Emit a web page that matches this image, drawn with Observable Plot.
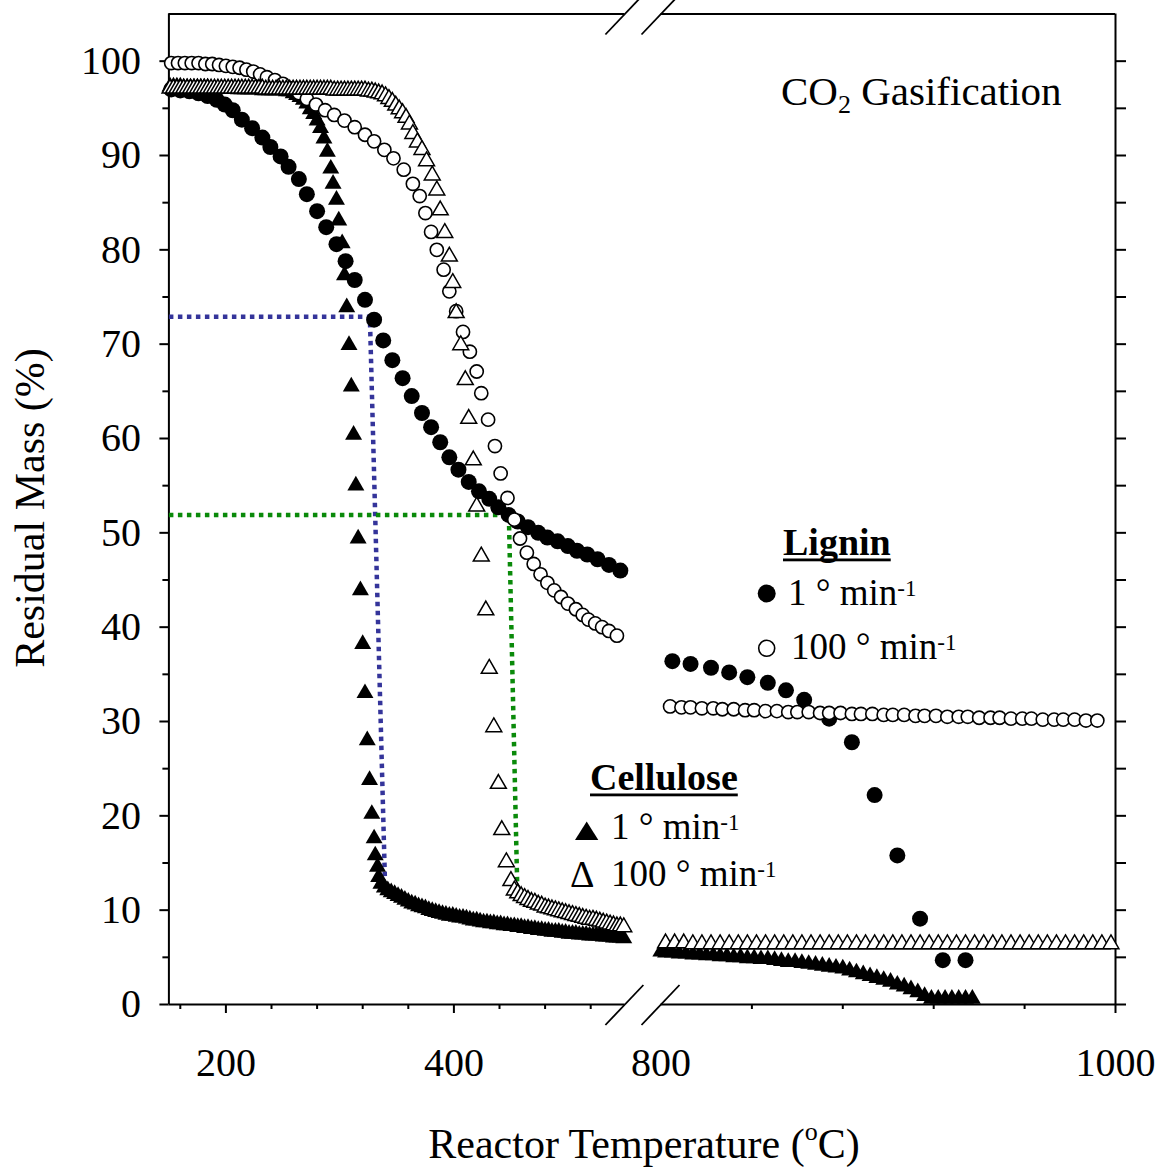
<!DOCTYPE html>
<html>
<head>
<meta charset="utf-8">
<script src="https://cdn.jsdelivr.net/npm/d3@7"></script>
<script src="https://cdn.jsdelivr.net/npm/@observablehq/plot@0.6"></script>
<style>
  html, body { margin: 0; padding: 0; background: #fff; }
  #chart { position: relative; width: 1157px; height: 1169px; }
</style>
</head>
<body>
<div id="chart"></div>
<script>
// ---- Residual mass (%) vs reactor temperature (°C), CO2 gasification ----

// Lignin, 1 °C/min (filled circles)
const ligninSlowTemp = [152,160,168,176,184,192,199,206,214,223,232,239,248,255,264,271,280,288,297,305,
  313,322,330,338,346,355,363,372,380,388,396,404,413,422,431,439,448,456,465,474,
  482,491,500,508,517,526,536,546,
  805,813,822,830,838,847,855,863,874,884,894,904,914,924,934];
const ligninSlowMass = [97.0,96.9,96.8,96.6,96.3,95.9,95.4,94.8,93.8,92.9,91.9,90.9,89.9,88.8,87.5,85.9,84.1,82.4,80.6,78.8,
  76.8,74.7,72.6,70.4,68.3,66.4,64.5,62.7,61.2,59.6,58.0,56.7,55.4,54.4,53.6,52.7,51.9,51.2,50.6,50.0,
  49.5,49.1,48.6,48.1,47.7,47.2,46.6,46.0,
  36.4,36.1,35.7,35.2,34.7,34.1,33.3,32.3,30.3,27.8,22.2,15.8,9.1,4.7,4.7];

// Lignin, 100 °C/min (open circles)
const ligninFastTemp = [152,158,164,170,176,182,188,194,200,206,212,218,224,230,236,243,250,257,264,271,
  279,287,295,304,313,322,330,339,347,356,364,370,375,380,385,391,396,402,408,414,
  420,424,430,436,441,447,453,458,464,470,476,482,488,494,500,507,513,518,524,530,536,543,
  804,809,813,818,823,827,832,837,841,846,851,856,860,865,870,874,879,884,888,893,
  898,902,907,912,916,921,926,931,935,940,945,949,954,959,963,968,973,977,982,987,992];
const ligninFastMass = [99.8,99.8,99.8,99.8,99.8,99.7,99.7,99.6,99.5,99.4,99.3,99.1,98.9,98.6,98.3,98.0,97.6,97.1,96.6,96.0,
  95.4,94.8,94.3,93.7,93.0,92.2,91.5,90.6,89.7,88.5,87.0,85.7,83.9,81.9,80.0,77.9,75.6,73.5,71.3,69.2,
  67.1,64.8,62.0,59.2,56.3,53.7,51.4,49.4,47.9,46.7,45.6,44.7,43.9,43.2,42.5,41.9,41.3,40.8,40.4,40.0,39.6,39.1,
  31.6,31.5,31.5,31.4,31.4,31.3,31.3,31.2,31.2,31.1,31.1,31.0,31.0,31.0,30.9,30.9,30.9,30.8,30.8,30.8,
  30.7,30.7,30.7,30.6,30.6,30.6,30.5,30.5,30.5,30.4,30.4,30.4,30.3,30.3,30.3,30.2,30.2,30.2,30.2,30.1,30.1];

// Cellulose, 1 °C/min (filled triangles)
const celluloseSlowTemp = [151,154,157,160,163,166,169,172,175,178,181,184,187,190,193,196,199,202,205,208,
  211,214,217,220,223,226,229,232,235,238,241,244,247,250,253,256,259,262,265,268,
  271,274,277,280,283,286,289,
  292,294,297,299,302,304,306,308,310,312,314,316,318,320,322,324,326,328,330,331,333,334,336,
  339,342,345,348,351,354,357,360,363,366,369,372,375,378,381,384,387,390,393,396,
  399,402,405,408,411,414,417,420,423,426,429,432,435,438,441,444,447,450,453,456,
  459,462,465,468,471,474,477,480,483,486,489,492,495,498,501,504,507,510,513,516,
  519,522,525,528,531,534,537,540,543,546,549,
  799,802,805,808,811,814,817,820,823,826,829,832,835,838,841,844,847,850,853,856,
  859,862,865,868,871,874,877,880,883,886,889,892,895,898,901,904,907,910,913,916,
  919,922,925,928,931,934,937];
const celluloseSlowMass = [97.3,97.3,97.3,97.3,97.2,97.2,97.2,97.2,97.2,97.2,97.2,97.2,97.1,97.1,97.1,97.1,97.1,97.1,97.1,97.1,
  97.0,97.0,97.0,97.0,97.0,97.0,97.0,96.9,96.9,96.9,96.9,96.9,96.9,96.9,96.8,96.8,96.6,96.4,96.2,95.9,
  95.5,94.9,94.4,93.7,92.9,91.8,90.4,
  88.6,87.0,85.3,83.1,80.7,77.3,73.9,69.9,65.5,60.4,55.0,49.4,43.9,38.2,33.0,28.0,23.8,20.2,17.6,15.8,14.6,13.5,12.8,
  12.4,12.1,11.9,11.7,11.5,11.3,11.1,10.9,10.7,10.6,10.4,10.3,10.2,10.0,9.9,9.8,9.7,9.6,9.5,9.4,
  9.4,9.3,9.2,9.2,9.1,9.0,8.9,8.9,8.8,8.7,8.7,8.6,8.6,8.5,8.5,8.4,8.4,8.3,8.3,8.2,
  8.2,8.1,8.1,8.0,8.0,7.9,7.9,7.8,7.8,7.7,7.7,7.7,7.6,7.6,7.5,7.5,7.5,7.4,7.4,7.4,
  7.3,7.3,7.3,7.3,7.2,7.2,7.2,7.1,7.1,7.1,7.0,
  5.6,5.5,5.5,5.4,5.4,5.3,5.3,5.2,5.2,5.1,5.1,5.0,5.0,4.9,4.9,4.8,4.8,4.7,4.6,4.5,
  4.5,4.4,4.3,4.2,4.1,4.0,3.9,3.8,3.6,3.4,3.2,3.0,2.8,2.6,2.4,2.1,1.9,1.6,1.3,0.9,
  0.6,0.6,0.6,0.6,0.6,0.6,0.6];

// Cellulose, 100 °C/min (open triangles)
const celluloseFastTemp = [151,154,157,160,163,166,169,172,175,178,181,184,187,190,193,196,199,202,205,208,
  211,214,217,220,223,226,229,232,235,238,241,244,247,250,253,256,259,262,265,268,
  271,274,277,280,283,286,289,292,295,298,301,304,307,310,313,316,319,322,325,328,
  331,334,337,340,343,346,349,352,355,358,361,364,368,372,376,381,385,388,392,396,
  399,402,406,410,413,417,420,424,428,431,435,439,442,446,450,
  453,456,459,462,465,468,471,474,477,480,483,486,489,492,495,498,501,504,507,510,
  513,516,519,522,525,528,531,534,537,540,543,546,549,
  802,806,810,814,818,822,826,830,834,838,842,846,850,854,858,862,866,870,874,878,
  882,886,890,894,898,902,906,910,914,918,922,926,930,934,938,942,946,950,954,958,
  962,966,970,974,978,982,986,990,994,998];
const celluloseFastMass = [97.1,97.1,97.1,97.1,97.1,97.1,97.1,97.1,97.1,97.1,97.1,97.1,97.1,97.1,97.1,97.1,97.1,97.1,97.1,97.1,
  97.1,97.1,97.1,97.1,97.1,97.1,97.1,97.1,97.0,97.0,97.0,97.0,97.0,97.0,97.0,97.0,97.0,97.0,97.0,97.0,
  97.0,97.0,97.0,97.0,97.0,97.0,97.0,97.0,96.9,96.9,96.9,96.9,96.9,96.9,96.9,96.9,96.9,96.9,96.8,96.8,
  96.7,96.6,96.5,96.3,96.0,95.7,95.3,94.9,94.5,94.0,93.3,92.3,91.4,90.6,89.4,87.9,86.3,84.2,81.8,79.3,
  76.5,73.3,69.9,66.2,62.1,57.7,52.8,47.5,41.8,35.6,29.4,23.4,18.5,15.1,13.1,
  12.1,11.8,11.5,11.3,11.1,10.9,10.8,10.6,10.5,10.3,10.2,10.1,10.0,9.9,9.8,9.7,9.6,9.5,9.4,9.3,
  9.2,9.1,9.0,9.0,8.9,8.8,8.7,8.6,8.5,8.4,8.3,8.3,8.2,
  6.5,6.5,6.5,6.4,6.4,6.4,6.4,6.4,6.4,6.4,6.4,6.4,6.4,6.4,6.4,6.4,6.4,6.4,6.4,6.4,
  6.4,6.4,6.4,6.4,6.4,6.4,6.4,6.4,6.4,6.4,6.4,6.4,6.4,6.4,6.4,6.4,6.4,6.4,6.4,6.4,
  6.4,6.4,6.4,6.4,6.4,6.4,6.4,6.4,6.4,6.4];

// Dotted guides: mass level and the cellulose temperature at which it is reached
const guideSlowTemp = [150, 326.3, 339.5];
const guideSlowMass = [72.9, 72.9, 13.2];
const guideFastTemp = [150, 448.2, 455.5];
const guideFastMass = [51.9, 51.9, 12.8];

// Broken temperature axis: two segments and their ticks
const xBreaks = [150, 550, 800, 1000];
const xSegments = [[150, 550], [800, 1000]];
const xTickLabels = [200, 400, 800, 1000];
const xMajorTicks = [200, 400, 1000];
const xMinorTicks = [160, 240, 280, 320, 360, 440, 480, 520, 840, 880, 920, 960];
const yTicks = [0, 10, 20, 30, 40, 50, 60, 70, 80, 90, 100];
const yMinorTicks = [5, 15, 25, 35, 45, 55, 65, 75, 85, 95];
const yRightTicks = [0, 5, 10, 15, 20, 25, 30, 35, 40, 45, 50, 55, 60, 65, 70, 75, 80, 85, 90, 95, 100];
const yTop = 105;

const rows = (temps, masses) => temps.map((t, i) => ({temp: t, mass: masses[i]}));
const ligninSlow = rows(ligninSlowTemp, ligninSlowMass);
const ligninFast = rows(ligninFastTemp, ligninFastMass);
const celluloseSlow = rows(celluloseSlowTemp, celluloseSlowMass);
const celluloseFast = rows(celluloseFastTemp, celluloseFastMass);
const guideSlow = rows(guideSlowTemp, guideSlowMass);
const guideFast = rows(guideFastTemp, guideFastMass);

const W = 1157, H = 1169;
const mL = 168.4, mR = 42, mT = 13.5, mB = 165;
// piecewise x range: left segment, gap for the break, right segment
const xRange = [mL, mL + 456, mL + 492.1, W - mR];

const FONT = '"Liberation Serif", "Times New Roman", serif';
const dotted = {strokeWidth: 4.5, strokeDasharray: "4.5,4.5", strokeLinecap: "butt", strokeLinejoin: "miter"};

const plot = Plot.plot({
  width: W,
  height: H,
  marginLeft: mL,
  marginRight: mR,
  marginTop: mT,
  marginBottom: mB,
  style: {fontFamily: FONT, fontSize: "40px", background: "white", color: "black", overflow: "visible"},
  x: {type: "linear", domain: xBreaks, range: xRange},
  y: {domain: [0, yTop]},
  marks: [
    // axis frame with gaps at the break
    Plot.ruleY(xSegments, {x1: d => d[0], x2: d => d[1], y: 0, strokeWidth: 2}),
    Plot.ruleY(xSegments, {x1: d => d[0], x2: d => d[1], y: yTop, strokeWidth: 2}),
    Plot.ruleX([xBreaks[0], xBreaks[3]], {y1: 0, y2: yTop, strokeWidth: 2}),

    // left y axis
    Plot.axisY({ticks: yTicks, tickSize: 9, tickPadding: 19, strokeWidth: 2, fontSize: 40, label: null, tickFormat: d => String(d)}),
    Plot.axisY({ticks: yMinorTicks, tickSize: 6, strokeWidth: 2, label: null, tickFormat: () => ""}),
    // right y axis (ticks only)
    Plot.axisY({anchor: "right", ticks: yRightTicks, tickSize: 10, strokeWidth: 2, label: null, tickFormat: () => ""}),

    // x axis
    Plot.axisX({ticks: xMajorTicks, tickSize: 9, strokeWidth: 2, label: null, tickFormat: () => ""}),
    Plot.axisX({ticks: xMinorTicks, tickSize: 5, strokeWidth: 2, label: null, tickFormat: () => ""}),
    Plot.axisX({ticks: xTickLabels, tickSize: 0, tickPadding: 43, fontSize: 40, label: null, tickFormat: d => String(d)}),

    // dotted guides
    Plot.line(guideSlow, {x: "temp", y: "mass", stroke: "#34349a", ...dotted}),
    Plot.line(guideFast, {x: "temp", y: "mass", stroke: "#0a8a0a", ...dotted}),

    // series
    Plot.dot(ligninSlow, {x: "temp", y: "mass", r: 8, fill: "black", stroke: null}),
    Plot.dot(celluloseSlow, {x: "temp", y: "mass", symbol: "triangle", r: 6.3, fill: "black", stroke: null}),
    Plot.dot(ligninFast, {x: "temp", y: "mass", r: 6.6, fill: "white", stroke: "black", strokeWidth: 1.6}),
    Plot.dot(celluloseFast, {x: "temp", y: "mass", symbol: "triangle", r: 5.9, fill: "white", stroke: "black", strokeWidth: 1.5})
  ]
});

document.getElementById("chart").append(plot);

// ---- annotations drawn on top of the plot ----
const svg = d3.select(plot);
const sx = plot.scale("x");
const sy = plot.scale("y");

// break marks "//" on top and bottom edges
const breakX = [xBreaks[1], xBreaks[2]].map(v => sx.apply(v));
const breakY = [0, yTop].map(v => sy.apply(v));
const gBreak = svg.append("g").attr("stroke", "black").attr("stroke-width", 1.8);
for (const px of breakX) {
  for (const py of breakY) {
    gBreak.append("line")
      .attr("x1", px - 19).attr("y1", py + 21)
      .attr("x2", px + 19).attr("y2", py - 19);
  }
}

function addText(x, y, size, opts = {}) {
  return svg.append("text")
    .attr("x", x).attr("y", y)
    .attr("fill", "black")
    .attr("text-anchor", opts.anchor || "start")
    .style("font-family", FONT)
    .style("font-size", size + "px")
    .style("font-weight", opts.bold ? "bold" : "normal");
}

// axis titles
svg.append("text")
  .attr("transform", "translate(44,508) rotate(-90)")
  .attr("text-anchor", "middle")
  .style("font-family", FONT).style("font-size", "42px")
  .text("Residual Mass (%)");

const xTitle = addText(644, 1158, 42, {anchor: "middle"});
xTitle.append("tspan").text("Reactor Temperature (");
xTitle.append("tspan").attr("dy", -18).style("font-size", "26px").text("o");
xTitle.append("tspan").attr("dy", 18).text("C)");

// panel title
const panelTitle = addText(781, 105, 41);
panelTitle.append("tspan").text("CO");
panelTitle.append("tspan").attr("dy", 8).style("font-size", "26px").text("2");
panelTitle.append("tspan").attr("dy", -8).text(" Gasification");

// legend
function heading(x, y, str) {
  const t = addText(x, y, 38, {bold: true}).text(str);
  const w = t.node().getComputedTextLength();
  svg.append("rect").attr("x", x).attr("y", y + 3.5).attr("width", w).attr("height", 2.8).attr("fill", "black");
}
function rateLabel(x, y, rate) {
  const t = addText(x, y, 37);
  t.append("tspan").text(rate + " \u00B0 min");
  t.append("tspan").attr("dy", -9).style("font-size", "23px").text("-1");
}

heading(783, 555, "Lignin");
svg.append("circle").attr("cx", 766.7).attr("cy", 593.5).attr("r", 9).attr("fill", "black");
rateLabel(788, 605, "1");
svg.append("circle").attr("cx", 766.7).attr("cy", 648.3).attr("r", 8).attr("fill", "white")
  .attr("stroke", "black").attr("stroke-width", 1.6);
rateLabel(791, 658.5, "100");

heading(590, 790, "Cellulose");
svg.append("path").attr("d", "M575,840L598.3,840L586.7,821.5Z").attr("fill", "black");
rateLabel(611, 838.5, "1");
addText(570, 886.5, 38).text("\u0394");
rateLabel(611, 885.5, "100");
</script>
</body>
</html>
